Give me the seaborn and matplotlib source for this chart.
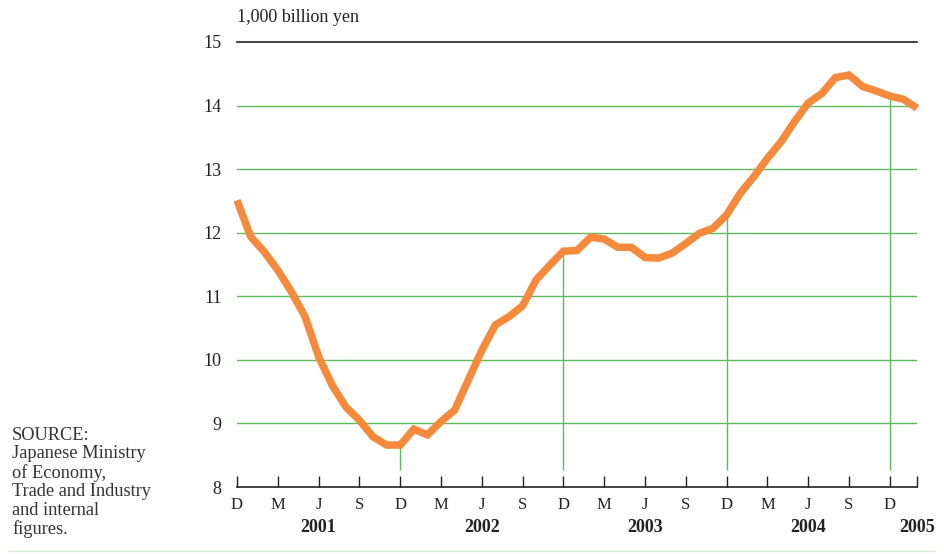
import pandas as pd
import numpy as np
import seaborn as sns
import matplotlib.pyplot as plt
from matplotlib.transforms import blended_transform_factory

# --- data: monthly values, Dec 2000 to Feb 2005 (1,000 billion yen) ---
values = [12.51, 11.94, 11.70, 11.41, 11.07, 10.68, 10.05, 9.60, 9.26, 9.05,
          8.79, 8.66, 8.66, 8.91, 8.82, 9.03, 9.21, 9.68, 10.15, 10.55,
          10.68, 10.85, 11.26, 11.49, 11.71, 11.72, 11.93, 11.90, 11.77, 11.77,
          11.61, 11.60, 11.68, 11.83, 11.99, 12.07, 12.28, 12.62, 12.88, 13.17,
          13.43, 13.75, 14.04, 14.19, 14.44, 14.48, 14.30, 14.23, 14.15, 14.10,
          13.96]
month_labels = ['D', 'M', 'J', 'S'] * 4 + ['D']
year_labels = ['2001', '2002', '2003', '2004', '2005']
year_pos = [6, 18, 30, 42, 50]
dec_idx = [12, 24, 36, 48]
source_lines = ['SOURCE:', 'Japanese Ministry', 'of Economy,',
                'Trade and Industry', 'and internal', 'figures.']

df = pd.DataFrame({'month': np.arange(len(values)), 'value': values})

sns.set_theme(style='white')
plt.rcParams['font.family'] = ['Liberation Serif', 'DejaVu Serif']

green = '#5DBB5C'
orange = '#F58A3D'
ink = '#222222'

fig = plt.figure(figsize=(9.44, 5.54), dpi=100)
ax = fig.add_axes([237 / 944, 67 / 554, 680 / 944, 445 / 554])

# horizontal green grid
for v in range(9, 15):
    ax.axhline(v, color=green, lw=1.0, zorder=1)

# vertical lines at each December, up to the series value
ax.vlines(dec_idx, 8.27, [values[i] for i in dec_idx], color=green, lw=1.0, zorder=1)

sns.lineplot(data=df, x='month', y='value', ax=ax, color=orange, lw=5.4,
             solid_joinstyle='miter', solid_capstyle='butt', zorder=3, clip_on=False)

ax.set_xlim(0, 50)
ax.set_ylim(8, 15)
ax.set_xlabel('')
ax.set_ylabel('')

for s in ['left', 'right']:
    ax.spines[s].set_visible(False)
for s in ['top', 'bottom']:
    ax.spines[s].set_color(ink)
    ax.spines[s].set_linewidth(1.2)

ax.set_yticks(range(8, 16))
ax.set_yticklabels([str(v) for v in range(8, 16)], fontsize=13, color=ink)
ax.tick_params(axis='y', length=0, pad=11)

tick_pos = list(range(0, 49, 3)) + [50]
ax.set_xticks(tick_pos)
ax.set_xticklabels(month_labels + [''], fontsize=12, color=ink)
ax.tick_params(axis='x', direction='in', length=8, width=1.0, color=ink, pad=7,
               bottom=True)

trans = blended_transform_factory(ax.transData, ax.transAxes)
for lab, pos in zip(year_labels, year_pos):
    ax.text(pos, -0.09, lab, transform=trans, ha='center', va='center',
            fontsize=13, fontweight='bold', color=ink)

ax.text(0, 1.054, '1,000 billion yen', transform=ax.transAxes, ha='left',
        va='center', fontsize=13, color=ink)

for k, line in enumerate(source_lines):
    fig.text(12 / 944, 1 - (435 + k * 18.8) / 554, line, ha='left', va='center',
             fontsize=13.2, color='#333333')

fig.add_artist(plt.Line2D([8 / 944, 935 / 944], [1 - 551 / 554] * 2,
                          color='#D6ECD6', lw=1.0))

fig.savefig('out.png', dpi=100)
